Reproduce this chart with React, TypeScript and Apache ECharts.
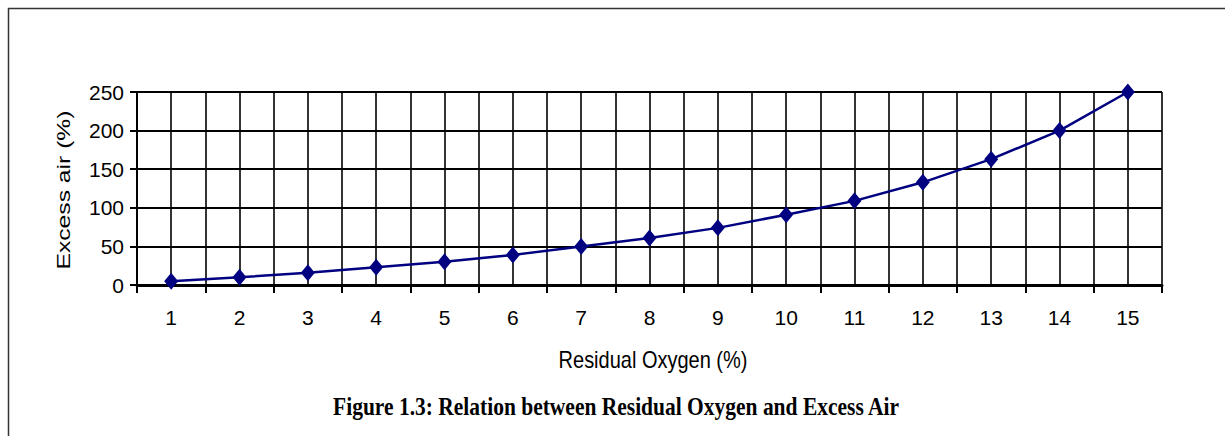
import React, { useEffect, useRef } from "react";
import * as echarts from "echarts";

const categories: string[] = ["1", "2", "3", "4", "5", "6", "7", "8", "9", "10", "11", "12", "13", "14", "15"];
const excessAir: number[] = [5, 10, 16, 23, 30, 39, 50, 61, 74, 91, 109, 133, 163, 200, 250];
const yTicks = { min: 0, max: 250, interval: 50 };
const xAxisTitle = "Residual Oxygen (%)";
const yAxisTitle = "Excess air (%)";
const caption = "Figure 1.3: Relation between Residual Oxygen and Excess Air";

export default function App() {
  const ref = useRef<HTMLDivElement>(null);
  useEffect(() => {
    if (!ref.current) return;
    const chart = echarts.init(ref.current, undefined, { renderer: "svg" });
    // helper axis: half-category grid lines (boundaries + centres)
    const halfSteps: string[] = [];
    for (let i = 0; i <= categories.length * 2; i++) halfSteps.push(String(i));
    const sans = "'Liberation Sans', Arial, sans-serif";
    chart.setOption({
      animation: false,
      backgroundColor: "#ffffff",
      grid: { left: 137, top: 92, right: 63, bottom: 151, containLabel: false },
      xAxis: [
        {
          type: "category",
          data: categories,
          boundaryGap: true,
          position: "bottom",
          axisLine: { show: true, lineStyle: { color: "#000", width: 3 } },
          axisTick: { show: true, length: 8, alignWithLabel: false, lineStyle: { color: "#000", width: 2 } },
          axisLabel: { margin: 22, fontFamily: sans, fontSize: 21, color: "#000" },
          splitLine: { show: false },
          z: 3,
        },
        {
          type: "category",
          data: halfSteps,
          boundaryGap: false,
          position: "top",
          axisLine: { show: false },
          axisTick: { show: false },
          axisLabel: { show: false },
          splitLine: { show: true, lineStyle: { color: "#000", width: 1.6 } },
        },
      ],
      yAxis: {
        type: "value",
        min: yTicks.min,
        max: yTicks.max,
        interval: yTicks.interval,
        axisLine: { show: true, lineStyle: { color: "#000", width: 2 } },
        axisTick: { show: true, length: 7, lineStyle: { color: "#000", width: 2 } },
        axisLabel: { margin: 13, fontFamily: sans, fontSize: 21, color: "#000" },
        splitLine: { show: true, lineStyle: { color: "#000", width: 2.2 } },
      },
      series: [
        {
          type: "line",
          xAxisIndex: 0,
          data: excessAir,
          symbol: "diamond",
          symbolSize: [14, 17],
          itemStyle: { color: "#000080" },
          lineStyle: { color: "#000080", width: 2.5 },
          z: 5,
        },
      ],
      graphic: [
        {
          type: "rect",
          shape: { x: 8.5, y: 8.5, width: 1400, height: 600 },
          style: { fill: "none", stroke: "#333", lineWidth: 1.5 },
          silent: true,
        },
        {
          type: "text",
          x: 64,
          y: 190,
          rotation: Math.PI / 2,
          scaleX: 1.3,
          style: {
            text: yAxisTitle,
            x: 0,
            y: 0,
            textAlign: "center",
            textVerticalAlign: "middle",
            fontFamily: sans,
            fontSize: 19,
            fill: "#000",
          },
        },
        {
          type: "text",
          x: 653,
          y: 360,
          scaleY: 1.2,
          style: {
            text: xAxisTitle,
            x: 0,
            y: 0,
            textAlign: "center",
            textVerticalAlign: "middle",
            fontFamily: sans,
            fontSize: 20,
            fill: "#000",
          },
        },
        {
          type: "text",
          x: 616,
          y: 406,
          scaleX: 0.86,
          style: {
            text: caption,
            x: 0,
            y: 0,
            textAlign: "center",
            textVerticalAlign: "middle",
            fontFamily: "'Liberation Serif', 'Times New Roman', serif",
            fontWeight: "bold",
            fontSize: 25,
            fill: "#000",
          },
        },
      ],
    });
    return () => chart.dispose();
  }, []);
  return (
    <div
      ref={ref}
      style={{ position: "fixed", left: 0, top: 0, width: 1225, height: 436, background: "#fff" }}
    />
  );
}
